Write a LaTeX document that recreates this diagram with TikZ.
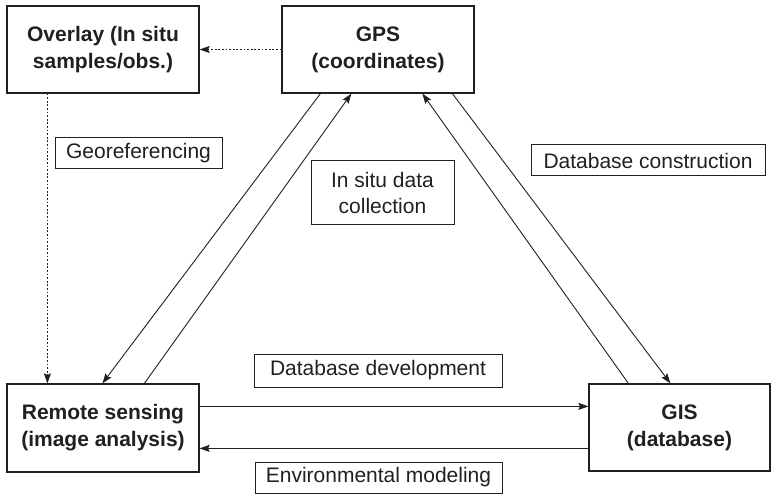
\documentclass[tikz,border=0pt]{standalone}
\usepackage{fontspec}
\setmainfont{Liberation Sans}
\usetikzlibrary{arrows.meta}
\definecolor{ink}{HTML}{231F20}
\begin{document}
\begin{tikzpicture}[x=1pt,y=-1pt,
  mainbox/.style={draw=ink,line width=1.2pt,text=ink,inner sep=0pt,align=center,
    font=\fontsize{21}{27}\selectfont\bfseries},
  labelbox/.style={draw=ink,line width=1pt,text=ink,inner sep=0pt,align=center,
    font=\fontsize{21}{26}\selectfont},
  link/.style={draw=ink,line width=0.9pt},
  tip/.style={-{Stealth[length=10pt,width=7pt,inset=1.5pt]}},
  dots/.style={line width=1.1pt,dash pattern=on 1.8pt off 1.8pt}]
\useasboundingbox (0,0) rectangle (771,494);
% main boxes
\node[mainbox,minimum width=192pt,minimum height=87pt] (ov)  at (103,49.5) {Overlay (In situ\\samples/obs.)};
\node[mainbox,minimum width=192pt,minimum height=87pt] (gps) at (378,49.5) {GPS\\(coordinates)};
\node[mainbox,minimum width=192pt,minimum height=88pt] (rs)  at (103,428) {Remote sensing\\(image analysis)};
\node[mainbox,minimum width=181pt,minimum height=87pt] (gis) at (679.5,427.5) {GIS\\(database)};
% label boxes
\node[labelbox,minimum width=167pt,minimum height=31pt] (geo) at (138.5,153.5) {Georeferencing};
\node[labelbox,minimum width=143pt,minimum height=64pt] (insitu) at (382.5,193) {In situ data\\collection};
\node[labelbox,minimum width=234pt,minimum height=31pt] (dbc) at (648,160.5) {Database construction};
\node[labelbox,minimum width=248pt,minimum height=33pt] (dbd) at (378,370.5) {Database development};
\node[labelbox,minimum width=247pt,minimum height=31pt] (env) at (378.5,477.5) {Environmental modeling};
% dotted connectors
\draw[link,dots,tip] (gps.west) -- (ov.east);
\draw[link,dots,tip] ([xshift=41pt]ov.south west) -- ([xshift=41pt]rs.north west);
% GPS <-> RS
\draw[link,tip] ([xshift=39pt]gps.south west) -- ([xshift=96pt]rs.north west);
\draw[link,tip] ([xshift=138pt]rs.north west) -- ([xshift=70pt]gps.south west);
% GPS <-> GIS
\draw[link,tip] ([xshift=40pt]gis.north west) -- ([xshift=141pt]gps.south west);
\draw[link,tip] ([xshift=171pt]gps.south west) -- ([xshift=82pt]gis.north west);
% RS <-> GIS
\draw[link,tip] ([yshift=-23pt]rs.north east) -- ([yshift=-23pt]gis.north west);
\draw[link,tip] ([yshift=-65pt]gis.north west) -- ([yshift=-65pt]rs.north east);
\end{tikzpicture}
\end{document}
